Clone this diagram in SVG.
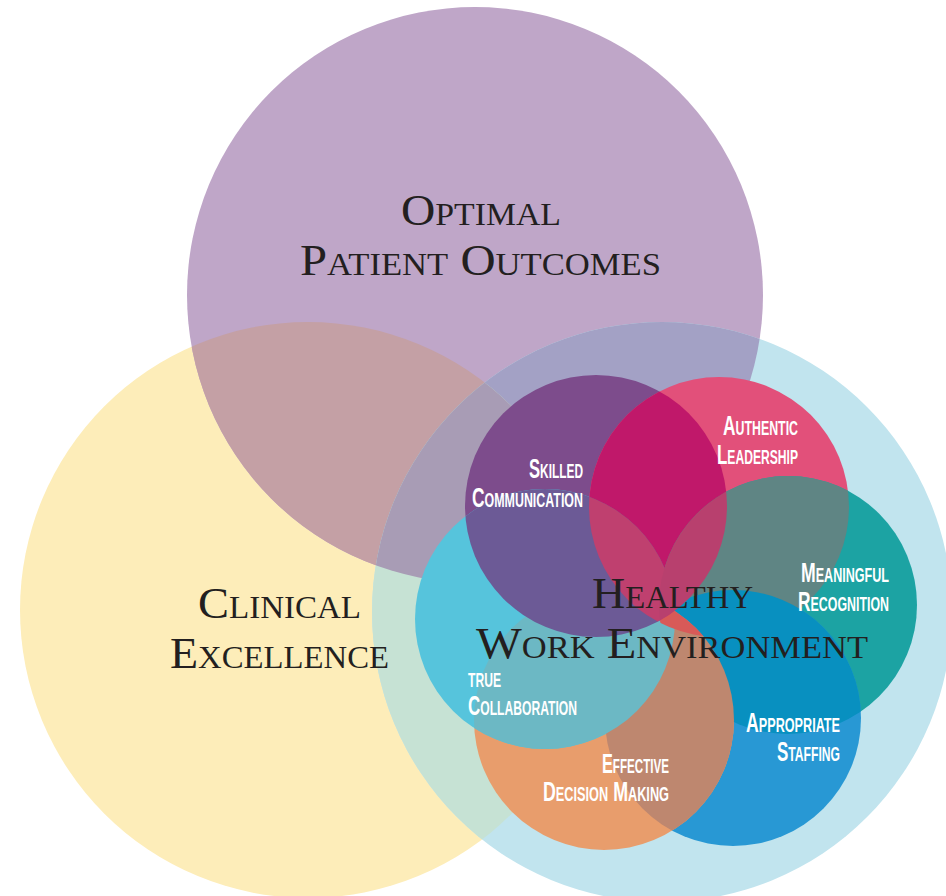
<svg xmlns="http://www.w3.org/2000/svg" width="946" height="896" viewBox="0 0 946 896">
<style>
.serif{font-family:"Liberation Serif","Times New Roman",serif;font-size:45px;font-variant:small-caps;fill:#231f20;}
.lbl{font-family:"Liberation Sans Narrow","Liberation Sans",Arial,sans-serif;font-weight:bold;font-size:28px;font-variant:small-caps;fill:#ffffff;}
</style>
<defs>
<clipPath id="cY"><circle cx="308" cy="610" r="288"/></clipPath>
<clipPath id="cPo"><circle cx="475" cy="295" r="288"/></clipPath>
<clipPath id="cL"><circle cx="662" cy="612" r="290"/></clipPath>
<clipPath id="cP"><circle cx="596" cy="506" r="131"/></clipPath>
<clipPath id="cK"><circle cx="719" cy="507" r="130"/></clipPath>
<clipPath id="cT"><circle cx="788" cy="605" r="129"/></clipPath>
<clipPath id="cB"><circle cx="733" cy="718" r="128"/></clipPath>
<clipPath id="cO"><circle cx="604" cy="720" r="130"/></clipPath>
<clipPath id="cC"><circle cx="545" cy="619" r="130"/></clipPath>
</defs>
<rect width="946" height="896" fill="#ffffff"/>

<g id="node-clinical-excellence"><circle cx="308" cy="610" r="288" fill="#fdedb9"/></g>
<g id="node-optimal-patient-outcomes"><circle cx="475" cy="295" r="288" fill="#bfa6c8"/></g>
<g id="node-healthy-work-environment"><circle cx="662" cy="612" r="290" fill="#c1e4ee"/></g>

<g id="big-overlaps">
<circle cx="475" cy="295" r="288" clip-path="url(#cY)" fill="#c4a0a5"/>
<circle cx="662" cy="612" r="290" clip-path="url(#cPo)" fill="#a3a1c5"/>
<circle cx="662" cy="612" r="290" clip-path="url(#cY)" fill="#c6e2d4"/>
<g clip-path="url(#cY)"><circle cx="662" cy="612" r="290" clip-path="url(#cPo)" fill="#a89cb5"/></g>
</g>

<g id="node-skilled-communication"><circle cx="596" cy="506" r="131" fill="#7d4c8c"/></g>
<g id="node-authentic-leadership"><circle cx="719" cy="507" r="130" fill="#e2507a"/></g>
<g id="node-meaningful-recognition"><circle cx="788" cy="605" r="129" fill="#1ca3a3"/></g>
<g id="node-appropriate-staffing"><circle cx="733" cy="718" r="128" fill="#2898d4"/></g>
<g id="node-effective-decision-making"><circle cx="604" cy="720" r="130" fill="#e89d6c"/></g>
<g id="node-true-collaboration"><circle cx="545" cy="619" r="130" fill="#56c4dc"/></g>

<g id="small-overlaps">
<circle cx="719" cy="507" r="130" clip-path="url(#cP)" fill="#c0186a"/>
<circle cx="788" cy="605" r="129" clip-path="url(#cK)" fill="#5f8584"/>
<circle cx="733" cy="718" r="128" clip-path="url(#cT)" fill="#0890c0"/>
<circle cx="604" cy="720" r="130" clip-path="url(#cB)" fill="#be876f"/>
<circle cx="545" cy="619" r="130" clip-path="url(#cO)" fill="#6cb8c4"/>
<circle cx="596" cy="506" r="131" clip-path="url(#cC)" fill="#6c5a96"/>
<g clip-path="url(#cK)"><circle cx="604" cy="720" r="130" clip-path="url(#cT)" fill="#d85a58"/></g>
<g clip-path="url(#cP)"><circle cx="719" cy="507" r="130" clip-path="url(#cC)" fill="#bf406f"/></g>
<g clip-path="url(#cP)"><circle cx="719" cy="507" r="130" clip-path="url(#cT)" fill="#b8406e"/></g>
</g>

<g id="label-optimal-patient-outcomes">
<text class="serif" x="401" y="225" textLength="160" lengthAdjust="spacingAndGlyphs">Optimal</text>
<text class="serif" x="300" y="275" textLength="361" lengthAdjust="spacingAndGlyphs">Patient Outcomes</text>
</g>
<g id="label-clinical-excellence">
<text class="serif" x="198" y="618" textLength="163" lengthAdjust="spacingAndGlyphs">Clinical</text>
<text class="serif" x="170" y="668" textLength="219" lengthAdjust="spacingAndGlyphs">Excellence</text>
</g>
<g id="label-healthy-work-environment">
<text class="serif" x="592" y="608" textLength="161" lengthAdjust="spacingAndGlyphs">Healthy</text>
<text class="serif" x="476" y="658" textLength="392" lengthAdjust="spacingAndGlyphs">Work Environment</text>
</g>

<g id="label-skilled-communication">
<text class="lbl" x="583" y="478" text-anchor="end" textLength="54" lengthAdjust="spacingAndGlyphs">Skilled</text>
<text class="lbl" x="583" y="507" text-anchor="end" textLength="111" lengthAdjust="spacingAndGlyphs">Communication</text>
</g>
<g id="label-authentic-leadership">
<text class="lbl" x="798" y="435" text-anchor="end" textLength="75" lengthAdjust="spacingAndGlyphs">Authentic</text>
<text class="lbl" x="798" y="464" text-anchor="end" textLength="81" lengthAdjust="spacingAndGlyphs">Leadership</text>
</g>
<g id="label-meaningful-recognition">
<text class="lbl" x="889" y="582" text-anchor="end" textLength="88" lengthAdjust="spacingAndGlyphs">Meaningful</text>
<text class="lbl" x="889" y="611" text-anchor="end" textLength="91" lengthAdjust="spacingAndGlyphs">Recognition</text>
</g>
<g id="label-true-collaboration">
<text class="lbl" x="468" y="687" textLength="33" lengthAdjust="spacingAndGlyphs">true</text>
<text class="lbl" x="468" y="715" textLength="109" lengthAdjust="spacingAndGlyphs">Collaboration</text>
</g>
<g id="label-appropriate-staffing">
<text class="lbl" x="840" y="732" text-anchor="end" textLength="94" lengthAdjust="spacingAndGlyphs">Appropriate</text>
<text class="lbl" x="840" y="761" text-anchor="end" textLength="63" lengthAdjust="spacingAndGlyphs">Staffing</text>
</g>
<g id="label-effective-decision-making">
<text class="lbl" x="669" y="773" text-anchor="end" textLength="67" lengthAdjust="spacingAndGlyphs">Effective</text>
<text class="lbl" x="669" y="801" text-anchor="end" textLength="126" lengthAdjust="spacingAndGlyphs">Decision Making</text>
</g>
</svg>
